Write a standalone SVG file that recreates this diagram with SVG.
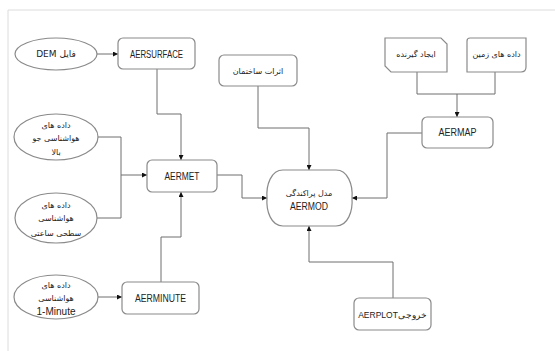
<svg xmlns="http://www.w3.org/2000/svg" width="555" height="351" viewBox="0 0 555 351">
<defs>
<style>
.frame{fill:none;stroke:#dcdcdc;stroke-width:1}
.box{fill:#fff;stroke:#8a8a8a;stroke-width:1.2}
.con{fill:none;stroke:#6e6e6e;stroke-width:1}
.lat{font-family:"Liberation Sans",Arial,sans-serif;font-size:10px;fill:#222;text-anchor:middle}
.fa{font-family:"DejaVu Sans","Noto Sans",sans-serif;font-size:8px;fill:#222;text-anchor:middle;direction:rtl;unicode-bidi:embed}
</style>
<marker id="arr" markerWidth="5" markerHeight="5" refX="5" refY="2.5" orient="auto" markerUnits="userSpaceOnUse">
<path d="M0,0 L5,2.5 L0,5 Z" fill="#111"/>
</marker>
</defs>
<rect width="555" height="351" fill="#fff"/>
<path class="frame" d="M8,351 V10 H555"/>

<g id="connectors">
<path class="con" d="M97,54 H118" marker-end="url(#arr)"/>
<path class="con" d="M157,69 V114 H181 V160" marker-end="url(#arr)"/>
<path class="con" d="M98,137 H121 V175 H147" marker-end="url(#arr)"/>
<path class="con" d="M97,218 H121 V175"/>
<path class="con" d="M98,297 H122" marker-end="url(#arr)"/>
<path class="con" d="M161,282 V237 H181 V192" marker-end="url(#arr)"/>
<path class="con" d="M217,175 H242 V198 H267" marker-end="url(#arr)"/>
<path class="con" d="M258,86 V128 H309 V170" marker-end="url(#arr)"/>
<path class="con" d="M417,72 V94 H495 V72"/>
<path class="con" d="M457,94 V117" marker-end="url(#arr)"/>
<path class="con" d="M422,133 H387 V198 H352" marker-end="url(#arr)"/>
<path class="con" d="M393,298 V262 H309 V226" marker-end="url(#arr)"/>
</g>

<g id="dem-file">
<ellipse class="box" cx="56" cy="54" rx="41" ry="16"/>
<text class="fa" x="56" y="57" style="font-size:9px">فایل DEM</text>
</g>
<g id="aersurface">
<rect class="box" x="118" y="38" width="77" height="31" rx="5"/>
<text class="lat" x="156.5" y="57.5" textLength="53" lengthAdjust="spacingAndGlyphs">AERSURFACE</text>
</g>
<g id="upper-air">
<ellipse class="box" cx="56" cy="137" rx="42" ry="23"/>
<text class="fa" x="56" y="128">داده های</text>
<text class="fa" x="56" y="141">هواشناسی جو</text>
<text class="fa" x="56" y="155">بالا</text>
</g>
<g id="surface-hourly">
<ellipse class="box" cx="56" cy="218" rx="41" ry="25"/>
<text class="fa" x="56" y="208">داده های</text>
<text class="fa" x="56" y="221">هواشناسی</text>
<text class="fa" x="56" y="236">سطحی ساعتی</text>
</g>
<g id="one-minute">
<ellipse class="box" cx="56" cy="297" rx="42" ry="22"/>
<text class="fa" x="56" y="288">داده های</text>
<text class="fa" x="56" y="301">هواشناسی</text>
<text class="lat" x="56" y="315" textLength="39" lengthAdjust="spacingAndGlyphs">1-Minute</text>
</g>
<g id="aermet">
<rect class="box" x="147" y="160" width="70" height="32" rx="5"/>
<text class="lat" x="182" y="179.5" textLength="35" lengthAdjust="spacingAndGlyphs">AERMET</text>
</g>
<g id="aerminute">
<rect class="box" x="122" y="282" width="77" height="32" rx="5"/>
<text class="lat" x="160.5" y="301.5" textLength="51" lengthAdjust="spacingAndGlyphs">AERMINUTE</text>
</g>
<g id="building">
<rect class="box" x="219" y="55" width="78" height="31" rx="5"/>
<text class="fa" x="258" y="73.5">اثرات ساختمان</text>
</g>
<g id="aermod">
<path class="box" d="M283,170 H336 C348,170 353,185 352,198 C353,211 348,226 336,226 H283 C271,226 266,211 267,198 C266,185 271,170 283,170 Z"/>
<text class="fa" x="309" y="196">مدل پراکندگی</text>
<text class="lat" x="309" y="210" textLength="38" lengthAdjust="spacingAndGlyphs">AERMOD</text>
</g>
<g id="receptor">
<path class="box" d="M385,38 H441 L447,44 V72 H391 L385,66 Z"/>
<text class="fa" x="416" y="57">ایجاد گیرنده</text>
</g>
<g id="terrain">
<path class="box" d="M470,38 H526 V67 Q526,72 521,72 H467 V41 Q467,38 470,38 Z"/>
<text class="fa" x="496.5" y="57">داده های زمین</text>
</g>
<g id="aermap">
<rect class="box" x="422" y="117" width="71" height="31" rx="5"/>
<text class="lat" x="457.5" y="136" textLength="38" lengthAdjust="spacingAndGlyphs">AERMAP</text>
</g>
<g id="aerplot">
<rect class="box" x="354" y="298" width="77" height="32" rx="5"/>
<text class="lat" x="392.5" y="317.5" style="font-size:8.5px">AERPLOTخروجی</text>
</g>
</svg>
